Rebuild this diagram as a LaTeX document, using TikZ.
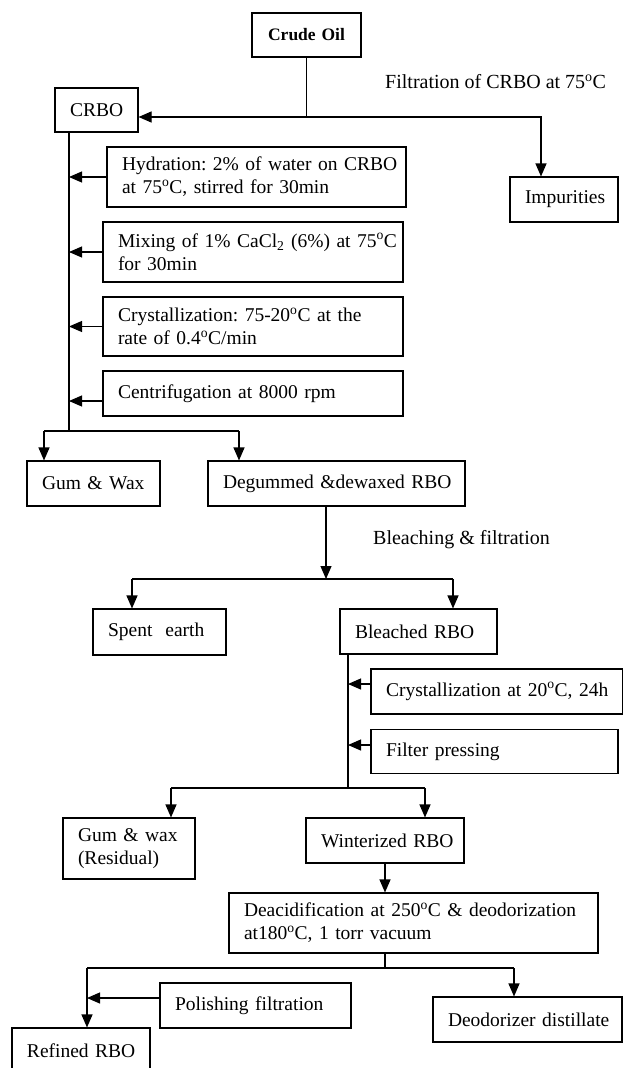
\documentclass[tikz,border=0pt]{standalone}
\usepackage{fontspec}
\setmainfont{Liberation Serif}
\usetikzlibrary{arrows.meta}
\newcommand\dg{\textsuperscript{o}}
\begin{document}
\frenchspacing
\begin{tikzpicture}[x=1pt,y=-1pt,
  box/.style={draw, line width=1.1pt, inner xsep=15pt, inner ysep=0pt, align=left, font=\fontsize{19.5}{23}\selectfont},
  lbl/.style={font=\fontsize{20}{23}\selectfont, anchor=west, inner sep=0pt},
  conn/.style={line width=1.1pt},
  arr/.style={line width=1.1pt, -{Triangle[length=13pt,width=11pt]}}]
\clip (0,0) rectangle (623,1068);
\fill[white] (0,0) rectangle (623,1068);
% nodes
\node[box, text width=79pt, minimum height=44pt, align=center, font=\bfseries\fontsize{17.5}{20}\selectfont] (crude) at (306.5,35) {\mbox{Crude Oil}};
\node[lbl] (filt) at (385,82) {Filtration of CRBO at 75\dg C};
\node[box, text width=53pt, minimum height=44pt] (crbo) at (96.5,110) {\mbox{CRBO}};
\node[box, text width=78pt, minimum height=45pt] (impur) at (564,199.5) {\mbox{Impurities}};
\node[box, text width=269pt, minimum height=60pt] (hyd) at (256.5,177) {\mbox{Hydration: 2\% of water on CRBO}\\\mbox{at 75\dg C, stirred for 30min}};
\node[box, text width=270pt, minimum height=60pt] (mix) at (253,252) {\mbox{Mixing of 1\% CaCl\textsubscript{2} (6\%) at 75\dg C}\\\mbox{for 30min}};
\node[box, text width=270pt, minimum height=59pt] (cryst) at (253,326.5) {\mbox{Crystallization: 75-20\dg C at the}\\\mbox{rate of 0.4\dg C/min}};
\node[box, text width=270pt, minimum height=45pt] (cent) at (253,393.5) {\mbox{Centrifugation at 8000 rpm}};
\node[box, text width=103pt, minimum height=45pt] (gumwax) at (93.5,483.5) {\mbox{Gum \& Wax}};
\node[box, text width=227pt, minimum height=45pt] (degum) at (336.5,483.5) {\mbox{Degummed \&dewaxed RBO}};
\node[lbl] (bleachlbl) at (373,540) {Bleaching \& filtration};
\node[box, text width=103pt, minimum height=46pt] (spent) at (159.5,632) {\mbox{Spent\ \ earth}};
\node[box, text width=127pt, minimum height=45pt] (bleached) at (418.5,631.5) {\mbox{Bleached RBO}};
\node[box, text width=222pt, minimum height=45pt] (cryst20) at (497,691.5) {\mbox{Crystallization at 20\dg C, 24h}};
\node[box, text width=217pt, minimum height=44pt] (filter) at (494.5,751.5) {\mbox{Filter pressing}};
\node[box, text width=102pt, minimum height=61pt] (gumres) at (129,848.5) {\mbox{Gum \& wax}\\\mbox{(Residual)}};
\node[box, text width=128pt, minimum height=45pt] (winter) at (385,840.5) {\mbox{Winterized RBO}};
\node[box, text width=339pt, minimum height=60pt] (deacid) at (413.5,923) {\mbox{Deacidification at 250\dg C \& deodorization}\\\mbox{at180\dg C, 1 torr vacuum}};
\node[box, text width=161pt, minimum height=45pt] (polish) at (255.5,1005.5) {\mbox{Polishing filtration}};
\node[box, text width=159pt, minimum height=45pt] (deodor) at (527.5,1019.5) {\mbox{Deodorizer distillate}};
\node[box, text width=108pt, minimum height=45pt] (refined) at (81,1050.5) {\mbox{Refined RBO}};
% connectors
\coordinate (j1) at (306.5,117);
\coordinate (j1r) at (541,117);
\draw[conn] (crude.south) -- (j1);
\draw[arr] (j1) -- (crbo.east |- j1);
\draw[arr] (j1) -- (j1r) -- (j1r |- impur.north);
\coordinate (mb) at (69,431);
\draw[conn] (crbo.south -| mb) -- (mb);
\draw[arr] (hyd.west) -- (hyd.west -| mb);
\draw[arr] (mix.west) -- (mix.west -| mb);
\draw[arr] (cryst.west) -- (cryst.west -| mb);
\draw[arr] ([yshift=-7.5pt]cent.west) -- ([yshift=-7.5pt]cent.west -| mb);
\coordinate (sl) at (44,431);
\coordinate (sr) at (239,431);
\draw[conn] (sl) -- (sr);
\draw[arr] (sl) -- (sl |- gumwax.north);
\draw[arr] (sr) -- (sr |- degum.north);
\coordinate (b0) at (326,579);
\coordinate (bl) at (132,579);
\coordinate (br) at (453,579);
\draw[arr] (degum.south -| b0) -- (b0);
\draw[conn] (bl) -- (br);
\draw[arr] (bl) -- (bl |- spent.north);
\draw[arr] (br) -- (br |- bleached.north);
\coordinate (w0) at (348,788);
\draw[conn] (bleached.south -| w0) -- (w0);
\draw[arr] ([yshift=7.5pt]cryst20.west) -- ([yshift=7.5pt]cryst20.west -| w0);
\draw[arr] ([yshift=6.5pt]filter.west) -- ([yshift=6.5pt]filter.west -| w0);
\coordinate (wl) at (171,788);
\coordinate (wr) at (425,788);
\draw[conn] (wl) -- (wr);
\draw[arr] (wl) -- (wl |- gumres.north);
\draw[arr] (wr) -- (wr |- winter.north);
\draw[arr] (winter.south) -- (deacid.north -| winter.south);
\coordinate (d0) at (385,968);
\coordinate (dl) at (87,968);
\coordinate (dr) at (514,968);
\draw[conn] (deacid.south -| d0) -- (d0);
\draw[conn] (dl) -- (dr);
\draw[arr] (dr) -- (dr |- deodor.north);
\draw[arr] (dl) -- (dl |- refined.north);
\draw[arr] ([yshift=7.5pt]polish.west) -- ([yshift=7.5pt]polish.west -| dl);
\end{tikzpicture}
\end{document}
